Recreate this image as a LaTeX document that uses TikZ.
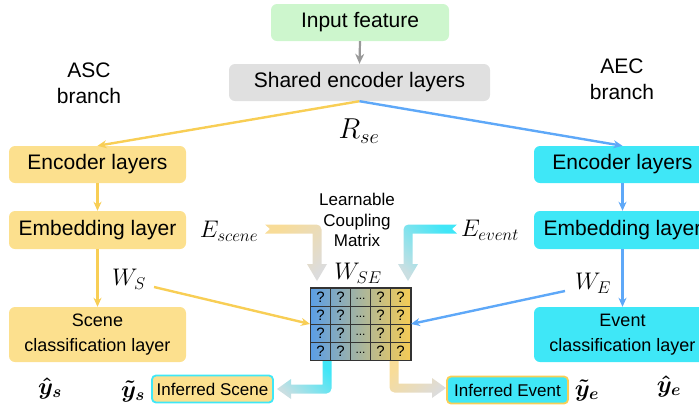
\documentclass[tikz,border=0pt]{standalone}
\usepackage{fix-cm}
\usepackage[no-math]{fontspec}
\setmainfont{Liberation Sans}
\usepackage{bm}
\usetikzlibrary{arrows.meta}
\DeclareMathSizes{24}{24}{17}{13}
\definecolor{boxY}{HTML}{FCE08E}
\definecolor{boxC}{HTML}{3FE7F7}
\definecolor{boxG}{HTML}{CDF6CD}
\definecolor{boxGr}{HTML}{E0E0E0}
\definecolor{lineY}{HTML}{F8CE55}
\definecolor{lineB}{HTML}{5EA8F8}
\definecolor{lineGr}{HTML}{999999}
\definecolor{matB}{HTML}{5B9EE6}
\definecolor{matY}{HTML}{F6CC55}
\definecolor{fatY}{HTML}{F8DC98}
\definecolor{fatC}{HTML}{40E6F7}
\definecolor{fatG}{HTML}{DCDCDC}
\definecolor{fatGC}{HTML}{CADFE2}
\begin{document}
\begin{tikzpicture}[x=1pt,y=-1pt,
  box/.style={rounded corners=6pt, minimum width=177pt, align=center, inner sep=0pt,
    font=\fontsize{21}{25}\selectfont},
  smallbox/.style={rounded corners=4pt, minimum width=121pt, minimum height=27pt, inner sep=0pt,
    line width=1.8pt, font=\fontsize{17}{20}\selectfont},
  lbl/.style={align=center, font=\fontsize{21}{26}\selectfont},
  mth/.style={inner sep=0pt, font=\fontsize{24}{28}\selectfont},
  arrY/.style={draw=lineY, line width=2.4pt, -{Stealth[length=9pt,width=8pt]}},
  arrB/.style={draw=lineB, line width=2.4pt, -{Stealth[length=9pt,width=8pt]}},
  arrG/.style={draw=lineGr, line width=2.2pt, -{Stealth[length=10pt,width=9pt]}},
  cell/.style={inner sep=0pt, font=\fontsize{15}{15}\selectfont},
  gridline/.style={draw=black!80, line width=0.9pt}
]
\useasboundingbox (0,0) rectangle (699,405);

% top boxes
\node[box, fill=boxG, minimum width=178pt, minimum height=37pt] (inp) at (360,22.5) {Input feature};
\node[box, fill=boxGr, minimum width=261pt, minimum height=37pt] (shared) at (359.5,82.5) {Shared encoder layers};

% branch labels
\node[lbl] (asc) at (89,83) {ASC\\branch};
\node[lbl] (aec) at (622,79) {AEC\\branch};

% left column
\node[box, fill=boxY, minimum height=37pt] (encL) at (97.5,164.5) {Encoder layers};
\node[box, fill=boxY, minimum height=38pt] (embL) at (97.5,230) {Embedding layer};
\node[box, fill=boxY, minimum height=55pt, font=\fontsize{18}{25}\selectfont] (clsL) at (97.5,334.5) {Scene\\classification layer};

% right column
\node[box, fill=boxC, minimum height=37pt] (encR) at (622.5,164.5) {Encoder layers};
\node[box, fill=boxC, minimum height=38pt] (embR) at (622.5,230) {Embedding layer};
\node[box, fill=boxC, minimum height=55pt, font=\fontsize{18}{25}\selectfont] (clsR) at (622.5,334.5) {Event\\classification layer};

% math labels
\node[mth, scale=1.2] (rse) at (359,131) {$R_{se}$};
\node[mth] (esc) at (229,231) {$E_{scene}$};
\node[mth] (eev) at (490,230) {$E_{event}$};
\node[mth] (wse) at (358,273) {$W_{SE}$};
\node[mth] (ws) at (129,279) {$W_S$};
\node[mth] (we) at (593,283) {$W_E$};
\node[mth] (yhs) at (50,388) {$\bm{\hat{y}_s}$};
\node[mth] (yts) at (133,391) {$\bm{\tilde{y}_s}$};
\node[mth] (yhe) at (669,386) {$\bm{\hat{y}_e}$};
\node[mth] (yte) at (587,390) {$\bm{\tilde{y}_e}$};

% coupling label
\node[align=center, font=\fontsize{17}{20.5}\selectfont] (lcm) at (357,220) {Learnable\\Coupling\\Matrix};

% fat arrows
\shade[top color=fatY, bottom color=fatG, shading angle=45]
  (265,224.5) [rounded corners=5pt] -- (321.5,224.5) [sharp corners] -- (321.5,264) -- (327,264) -- (317,281)
  -- (307,264) -- (312.5,264) -- (312.5,233.5) -- (265,233.5) -- (270,229) -- cycle;
\shade[top color=fatC, bottom color=fatGC, shading angle=-45]
  (457,224.5) [rounded corners=5pt] -- (403.5,224.5) [sharp corners] -- (403.5,264) -- (398,264) -- (408,281)
  -- (418,264) -- (412.5,264) -- (412.5,233.5) -- (457,233.5) -- (452,229) -- cycle;
\shade[top color=fatC, bottom color=fatGC, shading angle=-45]
  (322.5,360) -- (331.5,360) [rounded corners=5pt] -- (331.5,393.5) [sharp corners] -- (291,393.5) -- (291,399)
  -- (277,389) -- (291,379) -- (291,384.5) -- (322.5,384.5) -- cycle;
\shade[top color=fatY, bottom color=fatG, shading angle=45]
  (398.5,360) -- (389.5,360) [rounded corners=5pt] -- (389.5,392.5) [sharp corners] -- (432,392.5) -- (432,398)
  -- (446,388) -- (432,378) -- (432,383.5) -- (398.5,383.5) -- cycle;

% matrix
\node[draw=black!80, line width=0.9pt, minimum width=100pt, minimum height=72pt, inner sep=0pt,
  left color=matB, right color=matY] (mat) at (360.5,324) {};
\foreach \gx in {330.5,350.5,370.5,390.5} \draw[gridline] (\gx,288) -- (\gx,360);
\foreach \gy in {306,324,342} \draw[gridline] (310.5,\gy) -- (410.5,\gy);
\draw[black!80, line width=0.9pt] (mat.north west) rectangle (mat.south east);
\foreach \r in {0,1,2,3}{
  \node[cell] (c1\r) at (320.5,297+18*\r) {?};
  \node[cell] (c2\r) at (340.5,297+18*\r) {?};
  \node[cell, font=\fontsize{12}{12}\selectfont] (c3\r) at (360.5,299+18*\r) {...};
  \node[cell] (c4\r) at (380.5,297+18*\r) {?};
  \node[cell] (c5\r) at (400.5,297+18*\r) {?};
}

% small result boxes
\node[smallbox, fill=boxY, draw=boxC] (infS) at (212.5,389) {Inferred Scene};
\node[smallbox, fill=boxC, draw=lineY] (infE) at (507.5,390) {Inferred Event};

% connectors
\draw[arrG] (inp.south) -- (shared.north);
\draw[arrY] (shared.south) -- (encL.north);
\draw[arrB] (shared.south) -- (encR.north);
\draw[arrY] (encL.south) -- (embL.north);
\draw[arrY] (embL.south) -- (clsL.north);
\draw[arrB] (encR.south) -- (embR.north);
\draw[arrB] (embR.south) -- (clsR.north);
\coordinate (wsS) at (154,287);
\coordinate (weS) at (565,291);
\draw[arrY] (wsS) -- (mat.west);
\draw[arrB] (weS) -- (mat.east);
\end{tikzpicture}
\end{document}
